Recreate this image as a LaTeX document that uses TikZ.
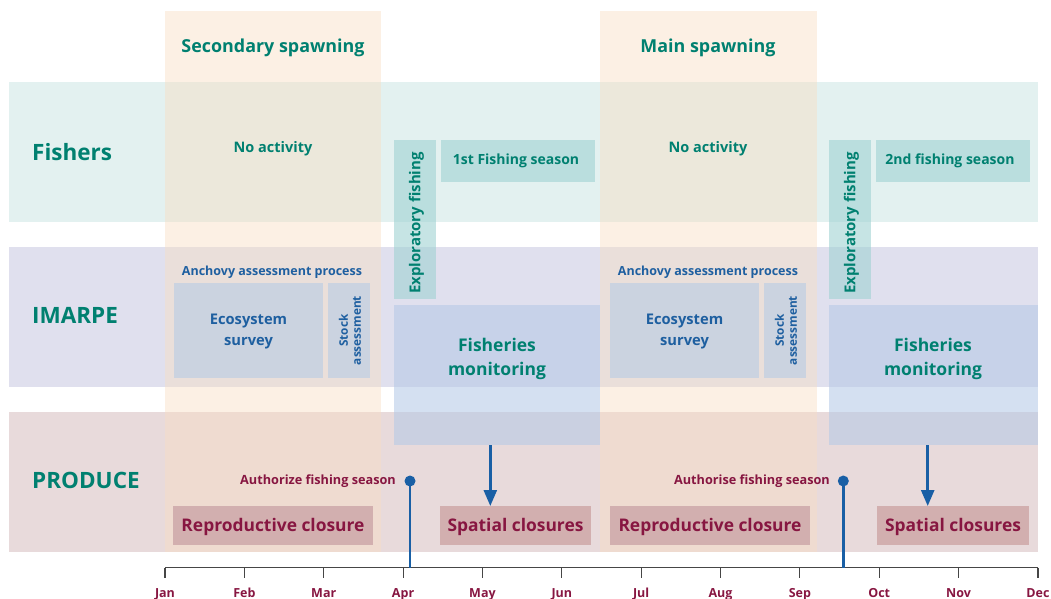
\documentclass[tikz,border=0pt]{standalone}
\usepackage{fontspec}
\setmainfont{Open Sans}
\usetikzlibrary{arrows.meta}
\definecolor{fishC}{RGB}{227,241,240}
\definecolor{imarpeC}{RGB}{224,224,238}
\definecolor{produceC}{RGB}{232,218,219}
\definecolor{spawnC}{RGB}{248,222,195}
\definecolor{explC}{RGB}{160,210,210}
\definecolor{monC}{RGB}{181,201,231}
\definecolor{survC}{RGB}{203,211,224}
\definecolor{closC}{RGB}{210,175,175}
\definecolor{tealT}{RGB}{0,128,112}
\definecolor{blueT}{RGB}{30,95,160}
\definecolor{redT}{RGB}{135,22,65}
\definecolor{markC}{RGB}{25,95,165}
\definecolor{axisC}{RGB}{70,70,70}
\begin{document}
\begin{tikzpicture}[x=1pt,y=-1pt,
  blk/.style={rectangle,inner sep=0pt,outer sep=0pt,draw=none},
  band/.style={blk,minimum width=1029pt,minimum height=140pt},
  spawn/.style={blk,fill=spawnC,fill opacity=0.45,minimum height=541pt},
  explbox/.style={blk,fill=explC,fill opacity=0.6},
  monbox/.style={blk,fill=monC,fill opacity=0.58,minimum width=206pt,minimum height=140pt},
  survbox/.style={blk,fill=survC,minimum height=95pt},
  closbox/.style={blk,fill=closC,minimum height=39pt},
  tealtxt/.style={inner sep=0pt,text=tealT,font=\bfseries},
  bluetxt/.style={inner sep=0pt,text=blueT,font=\bfseries},
  redtxt/.style={inner sep=0pt,text=redT,font=\bfseries},
  clostxt/.style={inner sep=0pt,text=redT,font=\fontsize{17.4}{20}\selectfont\bfseries},
  sidetxt/.style={tealtxt,anchor=west,font=\fontsize{22.5}{25}\selectfont\bfseries},
  month/.style={inner sep=0pt,text=redT,font=\fontsize{12.5}{14}\selectfont\bfseries},
  marker/.style={circle,fill=markC,inner sep=0pt,minimum size=11pt},
  mline/.style={draw=markC,line width=2.6pt},
  marrow/.style={draw=markC,line width=2.6pt,-{Triangle[width=13pt,length=16pt]}}
]
\useasboundingbox (0,0) rectangle (1051,599);
% bands
\node[band,fill=fishC] (fishband) at (523.5,152) {};
\node[band,fill=imarpeC] (imarpeband) at (523.5,317) {};
\node[band,fill=produceC] (produceband) at (523.5,482) {};
% spawning columns
\node[spawn,minimum width=216pt] (spawn1) at (273,281.5) {};
\node[spawn,minimum width=217pt] (spawn2) at (708.5,281.5) {};
% titles
\node[tealtxt,font=\fontsize{17.9}{20}\selectfont\bfseries] (sec) at (273,47.5) {Secondary spawning};
\node[tealtxt,font=\fontsize{17.9}{20}\selectfont\bfseries] (main) at (708,47.5) {Main spawning};
\node[sidetxt] (fishers) at (32,152) {Fishers};
\node[sidetxt] (imarpe) at (32,315.5) {IMARPE};
\node[sidetxt] (produce) at (32,480.5) {PRODUCE};
\node[tealtxt,font=\fontsize{14.5}{17}\selectfont\bfseries] (noact1) at (273,149) {No activity};
\node[tealtxt,font=\fontsize{14.5}{17}\selectfont\bfseries] (noact2) at (708,149) {No activity};
% fishers boxes
\node[explbox,minimum width=42pt,minimum height=159pt] (expl1) at (415,219.5) {};
\node[explbox,minimum width=42pt,minimum height=159pt] (expl2) at (850,219.5) {};
\node[tealtxt,rotate=90,font=\fontsize{15}{17}\selectfont\bfseries] (expltxt1) at (416.5,223) {Exploratory fishing};
\node[tealtxt,rotate=90,font=\fontsize{15}{17}\selectfont\bfseries] (expltxt2) at (851.5,223) {Exploratory fishing};
\node[explbox,minimum width=154pt,minimum height=42pt] (season1) at (518,161) {};
\node[explbox,minimum width=154pt,minimum height=42pt] (season2) at (953,161) {};
\node[tealtxt,font=\fontsize{14}{16}\selectfont\bfseries] (seatxt1) at (516,161) {1st Fishing season};
\node[tealtxt,font=\fontsize{14}{16}\selectfont\bfseries] (seatxt2) at (950,161) {2nd fishing season};
% IMARPE
\node[bluetxt,font=\fontsize{12.5}{14}\selectfont\bfseries] (anch1) at (272,272) {Anchovy assessment process};
\node[bluetxt,font=\fontsize{12.5}{14}\selectfont\bfseries] (anch2) at (708,272) {Anchovy assessment process};
\node[survbox,minimum width=149pt] (surv1) at (248.5,330.5) {};
\node[survbox,minimum width=149pt] (surv2) at (684.5,330.5) {};
\node[bluetxt,align=center,font=\fontsize{14.7}{21}\selectfont\bfseries] (survtxt1) at (248.5,332) {Ecosystem\\survey};
\node[bluetxt,align=center,font=\fontsize{14.7}{21}\selectfont\bfseries] (survtxt2) at (684.5,332) {Ecosystem\\survey};
\node[survbox,minimum width=42pt] (stock1) at (349,330.5) {};
\node[survbox,minimum width=42pt] (stock2) at (785,330.5) {};
\node[bluetxt,rotate=90,align=center,font=\fontsize{11.8}{13}\selectfont\bfseries] (stocktxt1) at (350,330.5) {Stock\\assessment};
\node[bluetxt,rotate=90,align=center,font=\fontsize{11.8}{13}\selectfont\bfseries] (stocktxt2) at (786,330.5) {Stock\\assessment};
\node[monbox] (mon1) at (497,375) {};
\node[monbox,minimum width=209pt] (mon2) at (933.5,375) {};
\node[tealtxt,align=center,font=\fontsize{17.5}{23.5}\selectfont\bfseries] (montxt1) at (497,359) {Fisheries\\monitoring};
\node[tealtxt,align=center,font=\fontsize{17.5}{23.5}\selectfont\bfseries] (montxt2) at (933,359) {Fisheries\\monitoring};
% PRODUCE
\node[closbox,minimum width=200pt] (rep1) at (273,525.5) {};
\node[closbox,minimum width=151pt] (sp1) at (515.5,525.5) {};
\node[closbox,minimum width=200pt] (rep2) at (710,525.5) {};
\node[closbox,minimum width=152pt] (sp2) at (953,525.5) {};
\node[clostxt] (reptxt1) at (273,526.5) {Reproductive closure};
\node[clostxt] (sptxt1) at (515.5,526.5) {Spatial closures};
\node[clostxt] (reptxt2) at (710,526.5) {Reproductive closure};
\node[clostxt] (sptxt2) at (953,526.5) {Spatial closures};
\node[redtxt,anchor=east,font=\fontsize{12.7}{14}\selectfont\bfseries] (auth1) at (396,481) {Authorize fishing season};
\node[redtxt,anchor=east,font=\fontsize{12.7}{14}\selectfont\bfseries] (auth2) at (830,481) {Authorise fishing season};
% axis
\foreach \m [count=\i from 0] in {Jan,Feb,Mar,Apr,May,Jun,Jul,Aug,Sep,Oct,Nov,Dec}{
  \coordinate (t\i) at ({165+79.36*\i},567.5);
  \coordinate (b\i) at ({165+79.36*\i},578);
  \node[month,anchor=base] (lab\i) at ({165+79.36*\i},597) {\m};
  \draw[axisC,line width=1.1pt] (t\i) -- (b\i);
}
\draw[axisC,line width=1.1pt] (t0) -- (t11);
% markers
\node[marker] (mk1) at (410,481) {};
\node[marker] (mk2) at (843.3,481) {};
\coordinate (mk1b) at (410,567.5);
\coordinate (mk2b) at (843.3,567.5);
\draw[mline] (mk1.center) -- (mk1b);
\draw[mline] (mk2.center) -- (mk2b);
% arrows
\coordinate (ax1) at (490.3,0);
\coordinate (ax2) at (927.7,0);
\draw[marrow] (ax1 |- mon1.south) -- (ax1 |- sp1.north);
\draw[marrow] (ax2 |- mon2.south) -- (ax2 |- sp2.north);
\end{tikzpicture}
\end{document}
